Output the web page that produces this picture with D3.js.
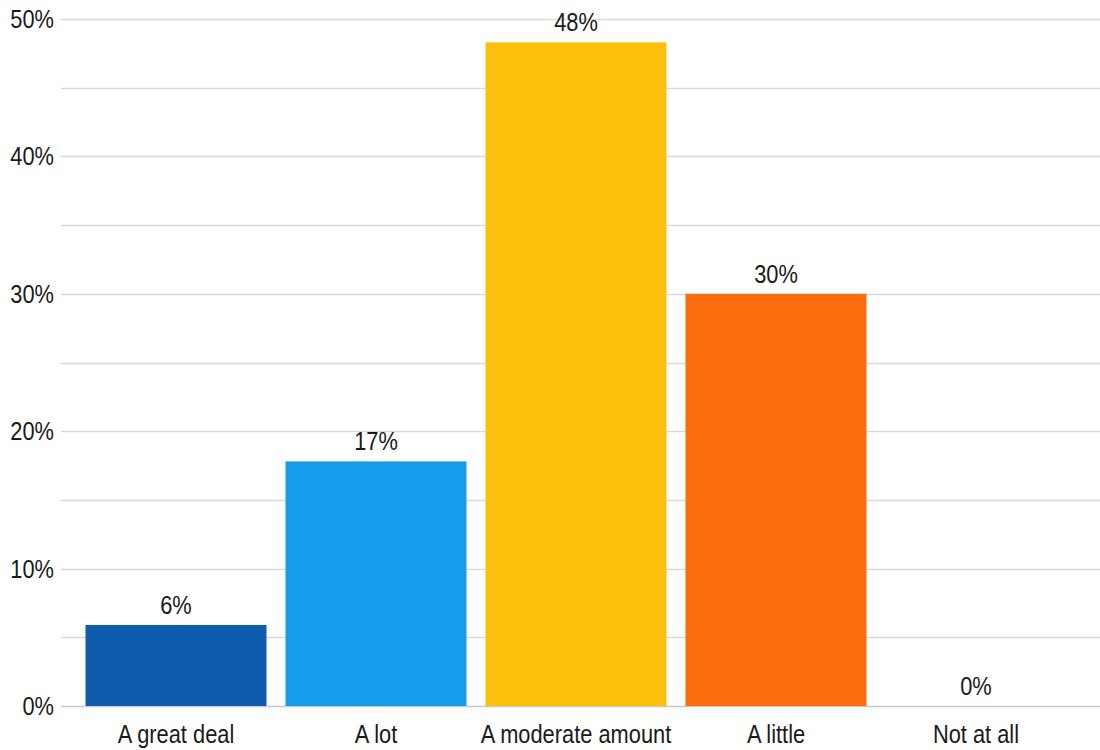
<!DOCTYPE html>
<html>
<head>
<meta charset="utf-8">
<script src="https://cdn.jsdelivr.net/npm/d3@7"></script>
<style>
  html, body { margin: 0; padding: 0; background: #fff; }
  svg text { font-family: "Liberation Sans", Arial, sans-serif; fill: #1a1a1a; }
</style>
</head>
<body>
<svg id="chart" width="1100" height="750"></svg>
<script>
const categories = ["A great deal", "A lot", "A moderate amount", "A little", "Not at all"];
const values = [5.9, 17.8, 48.3, 30.0, 0];
const valueLabels = ["6%", "17%", "48%", "30%", "0%"];
const colors = ["#0f5caf", "#169cec", "#fcc00c", "#fa6c0c", "#999999"];
const yTicks = [0, 10, 20, 30, 40, 50];
const gridTicks = [0, 5, 10, 15, 20, 25, 30, 35, 40, 45, 50];

const svg = d3.select("#chart");
const fontSize = 26;
const squeeze = 0.84;

const y = d3.scaleLinear().domain([0, 50]).range([706, 19]);
const x = d3.scaleBand().domain(categories).range([76, 1076]).paddingInner(0.095).paddingOuter(0.0475);

function placeText(sel, fx, fy) {
  sel.attr("transform", (d, i) => `translate(${fx(d, i)},${fy(d, i)}) scale(${squeeze},1)`)
     .attr("font-size", fontSize);
}

// gridlines
svg.append("g").selectAll("line").data(gridTicks).join("line")
  .attr("x1", 61).attr("x2", 1100)
  .attr("y1", d => Math.round(y(d)) + 0.5).attr("y2", d => Math.round(y(d)) + 0.5)
  .attr("stroke", d => d === 0 ? "#c8c8c8" : "#d9d9d9")
  .attr("stroke-width", 1.5);

// y labels
svg.append("g").selectAll("text").data(yTicks).join("text")
  .attr("text-anchor", "end")
  .call(placeText, d => 54, d => y(d) + 9)
  .text(d => d + "%");

// bars
svg.append("g").selectAll("rect").data(values).join("rect")
  .attr("x", (d, i) => x(categories[i]))
  .attr("width", x.bandwidth())
  .attr("y", d => y(d))
  .attr("height", d => y(0) - y(d))
  .attr("fill", (d, i) => colors[i]);

// value labels
svg.append("g").selectAll("text").data(values).join("text")
  .attr("text-anchor", "middle")
  .call(placeText, (d, i) => x(categories[i]) + x.bandwidth() / 2, d => y(d) - 11)
  .text((d, i) => valueLabels[i]);

// x labels
svg.append("g").selectAll("text").data(categories).join("text")
  .attr("text-anchor", "middle")
  .call(placeText, d => x(d) + x.bandwidth() / 2, d => 743)
  .text(d => d);
</script>
</body>
</html>
